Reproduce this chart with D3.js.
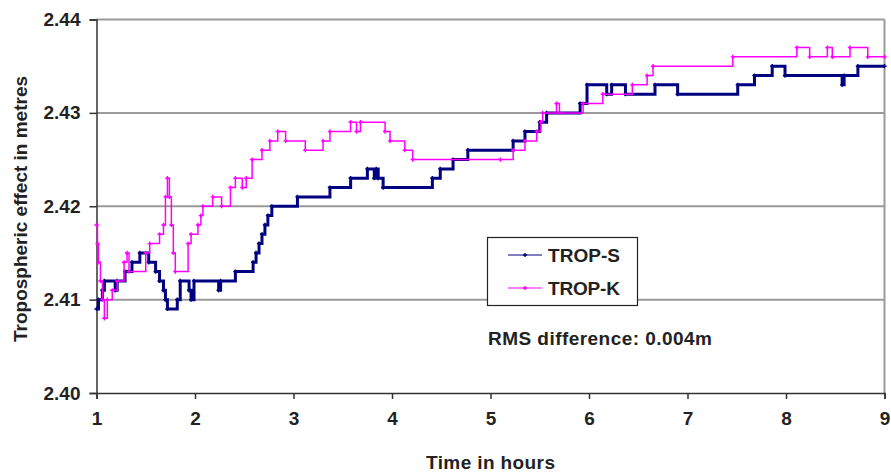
<!DOCTYPE html>
<html>

<head>
  <meta charset="utf-8">
  <title>Tropospheric effect</title>
  <style>
    body {
      margin: 0;
      background: #fff;
      font-family: "Liberation Sans", Arial, sans-serif;
    }

    svg text {
      font-weight: bold;
      fill: #222;
    }

    .grid line {
      stroke: #9a9a9a;
      stroke-width: 2px;
    }

    .trop-s {
      fill: none;
      stroke: #000080;
      stroke-width: 3px;
    }

    .trop-k {
      fill: none;
      stroke: #ff00ff;
      stroke-width: 1.5px;
    }
  </style>
</head>

<body>
  <svg width="891" height="474"></svg>

  <script src="https://d3js.org/d3.v7.min.js"></script>
  <script>
    // step points: [hour, metres], each value holds until the next hour
    var tropS = [
      [1.00, 2.409], [1.02, 2.410], [1.06, 2.411], [1.08, 2.412], [1.19, 2.411],
      [1.21, 2.412], [1.29, 2.413], [1.36, 2.414], [1.44, 2.415], [1.53, 2.414],
      [1.60, 2.413], [1.64, 2.412], [1.68, 2.411], [1.70, 2.410], [1.72, 2.409],
      [1.82, 2.410], [1.85, 2.412], [1.94, 2.411], [1.96, 2.410], [1.99, 2.412],
      [2.24, 2.411], [2.26, 2.412], [2.41, 2.413], [2.59, 2.414], [2.62, 2.415],
      [2.65, 2.416], [2.68, 2.417], [2.71, 2.418], [2.74, 2.419], [2.78, 2.420],
      [3.04, 2.421], [3.37, 2.422], [3.58, 2.423], [3.75, 2.424], [3.82, 2.423],
      [3.84, 2.424], [3.86, 2.423], [3.91, 2.422], [4.41, 2.423], [4.49, 2.424],
      [4.62, 2.425], [4.77, 2.426], [5.23, 2.427], [5.35, 2.428], [5.50, 2.429],
      [5.57, 2.430], [5.91, 2.431], [5.98, 2.433], [6.18, 2.432], [6.23, 2.433],
      [6.37, 2.432], [6.67, 2.433], [6.90, 2.432], [7.51, 2.433], [7.68, 2.434],
      [7.86, 2.435], [7.99, 2.434], [8.57, 2.433], [8.59, 2.434], [8.73, 2.435],
      [9.00, 2.435]
    ];

    var tropK = [
      [1.00, 2.418], [1.01, 2.416], [1.02, 2.414], [1.04, 2.412], [1.06, 2.410],
      [1.08, 2.408], [1.11, 2.410], [1.16, 2.411], [1.21, 2.412], [1.28, 2.414],
      [1.31, 2.415], [1.33, 2.413], [1.50, 2.415], [1.54, 2.416], [1.64, 2.417],
      [1.68, 2.418], [1.70, 2.421], [1.72, 2.423], [1.74, 2.421], [1.76, 2.418],
      [1.78, 2.415], [1.80, 2.413], [1.93, 2.416], [1.96, 2.417], [2.03, 2.418],
      [2.06, 2.419], [2.08, 2.420], [2.18, 2.421], [2.27, 2.420], [2.36, 2.422],
      [2.41, 2.423], [2.48, 2.422], [2.52, 2.423], [2.58, 2.425], [2.68, 2.426],
      [2.76, 2.427], [2.84, 2.428], [2.92, 2.427], [3.12, 2.426], [3.30, 2.427],
      [3.37, 2.428], [3.58, 2.429], [3.64, 2.428], [3.68, 2.429], [3.93, 2.428],
      [3.98, 2.427], [4.13, 2.426], [4.21, 2.425], [5.10, 2.425], [5.23, 2.426],
      [5.35, 2.427], [5.47, 2.428], [5.51, 2.429], [5.53, 2.430], [5.67, 2.431],
      [5.70, 2.430], [5.94, 2.431], [6.14, 2.432], [6.44, 2.433], [6.59, 2.434],
      [6.65, 2.435], [7.46, 2.436], [8.11, 2.437], [8.24, 2.436], [8.42, 2.437],
      [8.47, 2.436], [8.65, 2.437], [8.83, 2.436], [9.00, 2.436]
    ];

    var xTicks = [1, 2, 3, 4, 5, 6, 7, 8, 9];
    var yTicks = [2.40, 2.41, 2.42, 2.43, 2.44];
    var seriesNames = ['TROP-S', 'TROP-K'];
    var rmsNote = 'RMS difference: 0.004m';

    var svg = d3.select('svg');

    var x = d3.scaleLinear().domain([1, 9]).range([96.5, 884.5]);
    var y = d3.scaleLinear().domain([2.40, 2.44]).range([393, 19.5]);

    // horizontal gridlines
    svg.append('g')
      .attr('class', 'grid')
      .selectAll('line')
      .data(yTicks.slice(1))
      .join('line')
      .attr('x1', x(1)).attr('x2', x(9))
      .attr('y1', d => y(d)).attr('y2', d => y(d));

    // right border of the plot area
    svg.append('line')
      .attr('x1', x(9)).attr('x2', x(9))
      .attr('y1', y(2.44)).attr('y2', y(2.40))
      .attr('stroke', '#9a9a9a').attr('stroke-width', 2);

    // axes
    var xAxis = svg.append('g')
      .attr('transform', 'translate(0,' + y(2.40) + ')')
      .call(d3.axisBottom(x).tickValues(xTicks).tickFormat(d3.format('d')).tickSize(6).tickPadding(13));

    var yAxis = svg.append('g')
      .attr('transform', 'translate(' + x(1) + ',0)')
      .call(d3.axisLeft(y).tickValues(yTicks).tickFormat(d3.format('.2f')).tickSize(7).tickPadding(9));

    [xAxis, yAxis].forEach(function(g) {
      g.select('.domain').attr('stroke', '#333').attr('stroke-width', 1.5);
      g.selectAll('.tick line').attr('stroke', '#333').attr('stroke-width', 1.5);
      g.selectAll('.tick text')
        .attr('font-family', '"Liberation Sans", Arial, sans-serif')
        .attr('font-size', 19)
        .attr('font-weight', 'bold')
        .attr('fill', '#222');
    });

    // series
    var line = d3.line()
      .x(d => x(d[0]))
      .y(d => y(d[1]))
      .curve(d3.curveStepAfter);

    var cross = d3.symbol().type(d3.symbolCross).size(10);

    [[tropS, 'trop-s', '#000080'], [tropK, 'trop-k', '#ff00ff']].forEach(function(s) {
      svg.append('path')
        .datum(s[0])
        .attr('class', s[1])
        .attr('d', line);

      svg.append('g')
        .selectAll('path')
        .data(s[0])
        .join('path')
        .attr('d', cross)
        .attr('fill', s[2])
        .attr('transform', d => 'translate(' + x(d[0]) + ',' + y(d[1]) + ')');
    });

    // axis titles
    svg.append('text')
      .attr('x', (x(1) + x(9)) / 2)
      .attr('y', 469)
      .attr('text-anchor', 'middle')
      .attr('font-size', 19)
      .attr('textLength', 129)
      .text('Time in hours');

    svg.append('text')
      .attr('transform', 'translate(27,209) rotate(-90)')
      .attr('text-anchor', 'middle')
      .attr('font-size', 19)
      .text('Tropospheric effect in metres');

    // legend
    var legend = svg.append('g');
    legend.append('rect')
      .attr('x', 487.5).attr('y', 237.5)
      .attr('width', 150).attr('height', 68)
      .attr('fill', '#fff')
      .attr('stroke', '#222')
      .attr('stroke-width', 1.2);

    var legendColors = ['#000080', '#ff00ff'];
    var legendY = [255, 288];
    seriesNames.forEach(function(name, i) {
      legend.append('line')
        .attr('x1', 508).attr('x2', 542)
        .attr('y1', legendY[i]).attr('y2', legendY[i])
        .attr('stroke', legendColors[i]).attr('stroke-width', 1.2);
      legend.append('path')
        .attr('d', cross)
        .attr('fill', legendColors[i])
        .attr('transform', 'translate(525,' + legendY[i] + ')');
      legend.append('text')
        .attr('x', 548)
        .attr('y', legendY[i] + 7)
        .attr('font-size', 19)
        .attr('textLength', 72)
        .text(name);
    });

    svg.append('text')
      .attr('x', 488)
      .attr('y', 345)
      .attr('font-size', 19)
      .attr('textLength', 224)
      .text(rmsNote);
  </script>
</body>

</html>
